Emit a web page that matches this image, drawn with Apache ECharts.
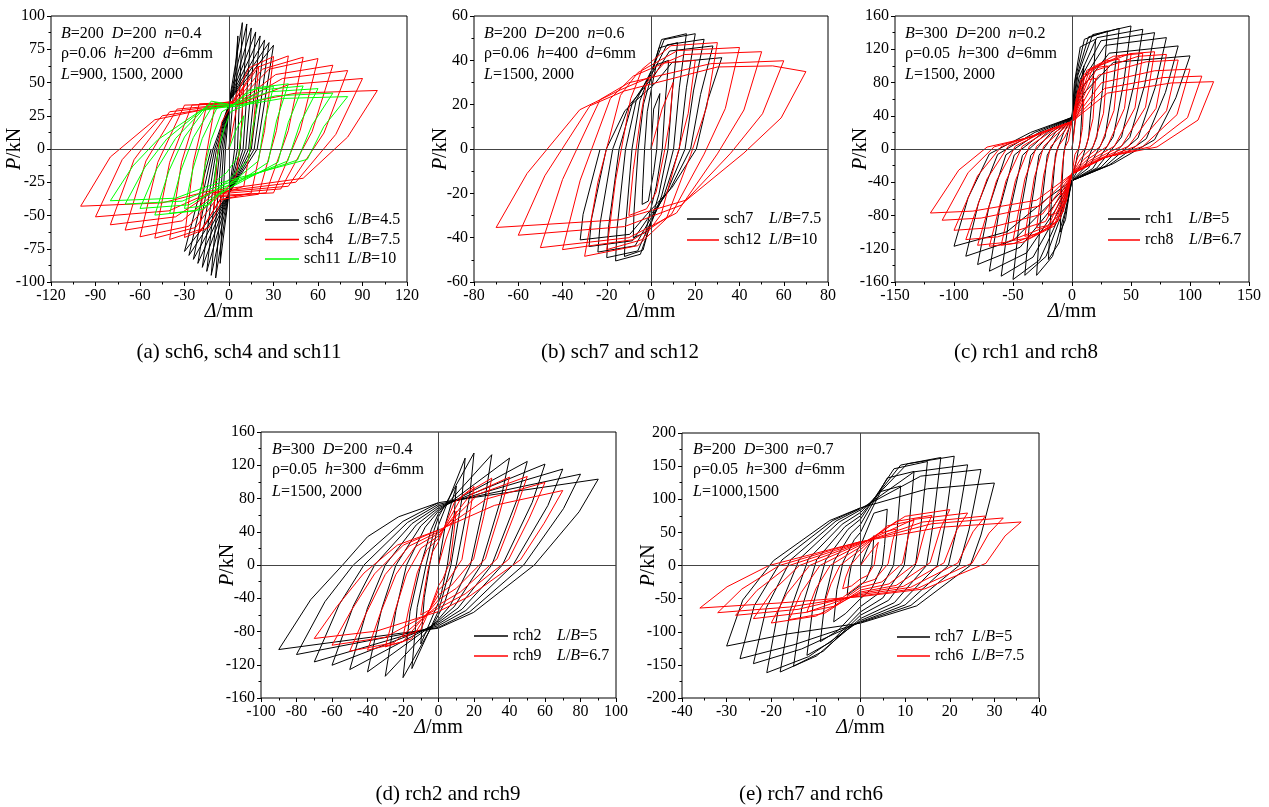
<!DOCTYPE html>
<html><head><meta charset="utf-8">
<script src="https://cdn.jsdelivr.net/npm/echarts@6/dist/echarts.min.js"></script>
<style>html,body{margin:0;padding:0;background:#fff}#c{width:1269px;height:807px}</style>
</head><body><div id="c"></div>
<script>
// ---------- data (Δ in mm, P in kN) ----------
const sch6 = [[0,0],[6,85],[3.8,0],[-0.3,-36],[-6,-86],[-2.4,0],[0.5,38],[9,95],[5.7,0],[-0.5,-36],[-9,-97],[-3.6,0],[0.6,38],[12,94],[7.6,0],[-0.6,-36],[-12,-95],[-4.8,0],[0.8,38],[15,91],[9.5,0],[-0.8,-36],[-15,-92],[-6,0],[0.9,38],[18,88],[11.3,0],[-0.9,-36],[-18,-89],[-7.2,0],[1,38],[21,85],[13.2,0],[-1,-36],[-21,-86],[-8.4,0],[1.1,38],[24,82],[15.1,0],[-1.2,-36],[-24,-83],[-9.6,0],[1.2,38],[27,80],[17,0],[-1.4,-36],[-27,-80],[-10.8,0],[1.4,38],[30,78],[19,0],[-1.5,-36],[-30,-77],[-12,0]];
const sch4 = [[0,0],[5,30],[10,48],[8,10],[5,-20],[-1.5,-30],[-10,-45],[-8,-7],[-5,20],
[1.6,33],[20,62],[16,12],[10,-28],[-3,-33],[-20,-63],[-16,-9],[-10,30],
[2.4,35],[13.5,61],[30,69.5],[24,14],[15,-33],[-4.5,-38],[-13.5,-59],[-30,-66.5],[-24,-10],[-15,33],
[3.2,36],[18,61],[40,70],[32,14],[20,-34],[-6,-38],[-18,-60],[-40,-68],[-32,-10],[-20,34],
[4,35],[22.5,60],[50,69],[40,14],[25,-33],[-7.5,-36],[-22.5,-59],[-50,-67],[-40,-10],[-25,33],
[5,35],[27,60],[60,68],[48,14],[30,-33],[-9,-35],[-27,-58],[-60,-66],[-48,-10],[-30,33],
[5.6,34],[31.5,56],[70,63],[56,13],[35,-30],[-10.5,-34],[-31.5,-54],[-70,-61],[-56,-9],[-35,30],
[6.4,34],[36,53],[80,59],[64,12],[40,-28],[-12,-33],[-36,-51],[-80,-57],[-64,-8],[-40,28],
[7.2,34],[40.5,48.5],[90,53],[72,11],[45,-25],[-13.5,-33],[-40.5,-46.5],[-90,-51],[-72,-8],[-45,25],
[8,34],[45,42],[100,44],[80,9],[50,-22],[-15,-32],[-45,-40.5],[-100,-43],[-80,-6],[-50,22],[-20,29],[0,33]];
const sch11 = [[0,0],[5,15],[10,25],[8,11],[6.6,-5],[-1.8,-18],[-10,-25],[-8.1,-8],[-6,5],[-2.4,18],
[1,28],[20,37],[16,16],[13.2,-8],[-3.6,-27],[-20,-38],[-16.2,-12.5],[-12,7],[-4.8,28],
[1.5,32],[13.5,44],[30,47],[24,20],[19.8,-9],[-5.4,-32],[-13.5,-42],[-30,-44.7],[-24.3,-15],[-18,8],[-7.2,33],
[2,33],[18,46],[40,49],[32,21],[26.4,-10],[-7.2,-35],[-18,-45.5],[-40,-48.4],[-32.4,-16],[-24,8.7],[-9.6,35],
[2.5,33],[22.5,44.5],[50,47.4],[40,20],[33,-10],[-9,-35],[-22.5,-46.5],[-50,-49.7],[-40.5,-16.4],[-30,9],[-12,36],
[3,33],[27,43],[60,45.4],[48,19.5],[39.6,-9],[-10.8,-32],[-27,-42],[-60,-44.7],[-48.6,-14.8],[-36,8],[-14.4,33],
[3.5,32],[31.5,40],[70,42],[56,18],[46.2,-8.3],[-12.6,-30],[-31.5,-39.2],[-70,-41.4],[-56.7,-13.7],[-42,7.5],[-16.8,30.6],
[4,32],[36,38],[80,39.4],[64,17],[52.8,-7.8],[-14.4,-28],[-36,-37],[-80,-38.9],[-64.8,-12.8],[-48,7],[-19.2,28.8],[0,32]];
const sch7 = [[0,0],[1.2,18],
[4,25],[3.2,13.3],[2.6,0],[1.2,-10.5],[-0.2,-18],[-1.2,-23.5],[-4,-25],[-3.8,-18],[-2.9,0],[-1.7,16.8],[0.5,28.8],[2.4,38],
[8,40],[6.4,21.2],[5.1,0],[2.4,-16.8],[-0.5,-28.8],[-2.4,-37.6],[-8,-40],[-7.7,-28.8],[-5.8,0],[-3.4,20.2],[0.7,34.6],[3.6,45.6],
[12,48],[9.6,25.4],[7.7,0],[3.6,-20.4],[-0.7,-34.9],[-3.6,-45.6],[-12,-48.5],[-11.5,-34.9],[-8.6,0],[-5,21.8],[1,37.4],[4.8,49.4],
[16,52],[12.8,27.6],[10.2,0],[4.8,-21.2],[-1,-36.4],[-4.8,-47.5],[-16,-50.5],[-15.4,-36.4],[-11.5,0],[-6.7,21.8],[1.2,37.4],[6,49.4],
[20,52],[16,27.6],[12.8,0],[6,-20.6],[-1.2,-35.3],[-6,-46],[-20,-49],[-19.2,-35.3],[-14.4,0],[-8.4,20.8],[1.4,35.6],[7.2,47],
[24,49.5],[19.2,26.2],[15.4,0],[7.2,-19.5],[-1.4,-33.5],[-7.2,-43.7],[-24,-46.5],[-23,-33.5],[-17.3,0],[-10,19.5],[1.7,33.5],[8.4,44.2],
[28,46.5],[22.4,24.6],[17.9,0],[8.4,-18.5],[-1.7,-31.7],[-8.4,-41.4],[-28,-44],[-26.9,-31.7],[-20.2,0],[-11.8,17.3],[1.9,29.7],[9.6,39.1],
[32,41.2],[25.6,21.8],[20.5,0],[9.6,-17.2],[-1.9,-29.5],[-9.6,-38.5],[-32,-41],[-30.7,-29.5],[-23,0]];
const sch12 = [[0,0],[5,18],
[10,30],[8.4,12],[6,-1.5],[2.3,-19.5],[-2,-27],[-10,-30],[-8,-9.3],[-4.6,15],[-2,30],[6,38.8],
[20,40],[16.8,16],[12,-2.3],[4.6,-29.5],[-4,-40.9],[-20,-45.4],[-16,-14.1],[-9.2,22.7],[-4,36],[9,46.6],
[30,48],[25.2,19.2],[18,-2.4],[6.9,-31.5],[-6,-43.6],[-30,-48.4],[-24,-15],[-13.8,24.2],[-6,34.4],[12,44.4],
[40,45.8],[33.6,18.3],[24,-2.3],[9.2,-29.5],[-8,-40.9],[-40,-45.4],[-32,-14.1],[-18.4,22.7],[-8,32.9],[15,42.6],
[50,43.9],[42,17.6],[30,-2.2],[11.5,-28.9],[-10,-40],[-50,-44.5],[-40,-13.8],[-23,22.3],[-10,29.9],[27,38.5],
[60,39.8],[50.4,15.9],[36,-1.9],[13.8,-25.3],[-12,-35],[-60,-38.9],[-48,-12.1],[-27.6,19.5],[-12,26.2],[30,37],[55,37.5],
[70,34.9],[58.8,14],[42,-1.8],[16.1,-23],[-14,-31.9],[-70,-35.4],[-56,-11],[-32.2,17.7],[-14,26.6],[0,32.6]];
const rch1 = [[0,0],[3,40],
[10,100],[8.8,55],[7,10],[3.5,-15],[0,-38],[-2,-50],[-5.5,-85],[-10,-100],[-8.8,-50],[-7,-5],[-3.5,20],[0,38],[2,79.2],[7,122.8],
[20,132],[17.6,72.6],[14,13.2],[7,-20],[0,-38],[-4,-66.5],[-11,-113],[-20,-133],[-17.6,-66.5],[-14,-6.7],[-7,20],[0,38],[3,85.2],[10.5,132],
[30,142],[26.4,78.1],[21,14.2],[10.5,-22.8],[0,-38],[-6,-76],[-16.5,-129.2],[-30,-152],[-26.4,-76],[-21,-7.6],[-10.5,20],[0,38],[4,87],[14,134.9],
[40,145],[35.2,79.8],[28,14.5],[14,-22.8],[0,-38],[-8,-76],[-22,-129.2],[-40,-152],[-35.2,-76],[-28,-7.6],[-14,20],[0,38],[5,88.8],[17.5,137.6],
[50,148],[44,81.4],[35,14.8],[17.5,-23.6],[0,-38],[-10,-78.5],[-27.5,-133.5],[-50,-157],[-44,-78.5],[-35,-7.9],[-17.5,20],[0,38],[6,86.4],[21,133.9],
[60,144],[52.8,79.2],[42,14.4],[21,-23],[0,-38],[-12,-76.5],[-33,-130],[-60,-153],[-52.8,-76.5],[-42,-7.7],[-21,20],[0,38],[7,84],[24.5,130.2],
[70,140],[61.6,77],[49,14],[24.5,-22],[0,-38],[-14,-73.5],[-38.5,-125],[-70,-147],[-61.6,-73.5],[-49,-7.4],[-24.5,20],[0,38],[8,80.4],[28,124.6],
[80,134],[70.4,73.7],[56,13.4],[28,-20.9],[0,-38],[-16,-69.5],[-44,-118.2],[-80,-139],[-70.4,-69.5],[-56,-7],[-28,20],[0,38],[9,74.4],[31.5,115.3],
[90,124],[79.2,68.2],[63,12.4],[31.5,-19.4],[0,-38],[-18,-64.5],[-49.5,-109.7],[-90,-129],[-79.2,-64.5],[-63,-6.5],[-31.5,20],[0,38],[10,67.2],[35,104.2],
[100,112],[88,61.6],[70,11.2],[35,-17.6],[0,-38],[-20,-58.5],[-55,-99.5],[-100,-117],[-88,-58.5],[-70,-5.9],[-35,20],[0,38]];
const rch8 = [[0,0],[3,35],
[10,60],[8.9,25.8],[6,1.8],[2.5,-6.6],[0,-30],[-2.5,-44],[-7,-53.4],[-10,-55],[-8,-18.2],[-6,1.7],[-3,9.9],[0,33],[5,70.6],[14,83.3],
[20,85],[17.8,36.6],[12,2.6],[5,-9.6],[0,-30],[-5,-64],[-14,-77.6],[-20,-80],[-16,-26.4],[-12,2.4],[-6,14.4],[0,33],[7.5,83],[21,98],
[30,100],[26.7,43],[18,3],[7.5,-11.4],[0,-30],[-7.5,-76],[-21,-92.2],[-30,-95],[-24,-31.4],[-18,2.9],[-9,17.1],[0,33],[10,89.6],[28,105.8],
[40,108],[35.6,46.4],[24,3.2],[10,-12.6],[0,-30],[-10,-84],[-28,-101.9],[-40,-105],[-32,-34.7],[-24,3.2],[-12,18.9],[0,33],[12.5,94.5],[35,111.5],
[50,113.8],[44.5,48.9],[30,3.4],[12.5,-13.2],[0,-30],[-12.5,-88],[-35,-106.7],[-50,-110],[-40,-36.3],[-30,3.3],[-15,19.8],[0,33],[15,95.5],[42,112.7],
[60,115],[53.4,49.5],[36,3.5],[15,-13.9],[0,-30],[-15,-92.6],[-42,-112.3],[-60,-115.8],[-48,-38.2],[-36,3.5],[-18,20.8],[0,33],[17.5,97.1],[49,114.7],
[70,117],[62.3,50.3],[42,3.5],[17.5,-14],[0,-30],[-17.5,-93.6],[-49,-113.5],[-70,-117],[-56,-38.6],[-42,3.5],[-21,21.1],[0,33],[20,94.5],[56,111.5],
[80,113.8],[71.2,48.9],[48,3.4],[20,-13.9],[0,-30],[-20,-92.6],[-56,-112.3],[-80,-115.8],[-64,-38.2],[-48,3.5],[-24,20.8],[0,33],[22.5,88.8],[63,104.9],
[90,107],[80.1,46],[54,3.2],[22.5,-13.1],[0,-30],[-22.5,-87.2],[-63,-105.7],[-90,-109],[-72,-36],[-54,3.3],[-27,19.6],[0,33],[25,79.7],[70,94.1],
[100,96],[89,41.3],[60,2.9],[25,-11.7],[0,-30],[-25,-78.2],[-70,-94.9],[-100,-97.8],[-80,-32.3],[-60,2.9],[-30,17.6],[0,33],[27.5,72.8],[77,85.9],
[110,87.7],[97.9,37.7],[66,2.6],[27.5,-10.3],[0,-30],[-27.5,-68.6],[-77,-83.1],[-110,-85.7],[-88,-28.3],[-66,2.6],[-33,15.4],[0,33],[30,67.2],[84,79.4],
[120,81],[106.8,34.8],[72,2.4],[30,-9.2],[0,-30],[-30,-61.6],[-84,-74.7],[-120,-77],[-96,-25.4],[-72,2.3],[-36,13.9],[0,33]];
const rch2 = [[0,0],[4,50],
[10,95],[8.8,59],[5,0],[1.5,-35],[0,-45],[-10,-95],[-8,-39],[-5,0],[-1.5,35],[0,48],
[15,128.6],[13.2,80],[7,0],[2,-40],[0,-55],[-15,-124.6],[-12,-51],[-7,0],[-2.5,42],[0,58],
[20,134.7],[17.6,83.5],[10,0],[3.5,-45],[0,-60],[-20,-135.5],[-16,-55.6],[-10,0],[-4,43],[0,62],
[30,132.7],[26.4,82.3],[18,0],[6.6,-48.8],[0,-65],[-30,-133.9],[-24,-54.9],[-18,0],[-7.5,45.5],[0,65],
[40,128.6],[35.2,79.7],[24,0],[8.8,-50.3],[0,-67],[-40,-128.6],[-32,-52.7],[-24,0],[-10,46.9],[0,67],
[50,124.6],[44,77.3],[30,0],[11,-51.8],[0,-69],[-50,-125.8],[-40,-51.6],[-30,0],[-12.5,48.3],[0,69],
[60,121.4],[52.8,75.3],[36,0],[13.2,-53.3],[0,-71],[-60,-120.6],[-48,-49.4],[-36,0],[-15,49.7],[0,71],
[70,115.4],[61.6,71.5],[42,0],[15.4,-54.8],[0,-73],[-70,-116.6],[-56,-47.8],[-42,0],[-17.5,51.1],[0,73],
[80,109.3],[70.4,67.8],[48,0],[17.6,-56.3],[0,-75],[-80,-107.7],[-64,-44.2],[-48,0],[-20,52.5],[0,75],
[90,103.3],[79.2,64],[54,0],[19.8,-57],[0,-76],[-90,-101.7],[-72,-41.7],[-54,0],[-40,34],[-22.5,58],[0,75]];
const rch9 = [[0,0],[4,30],
[10,65],[8.5,36.4],[6.6,4.6],[2.5,-16.8],[0,-25],[-5,-54],[-10,-60],[-8.2,-34.2],[-6,-6.6],[-3.3,16],[0,28],[9,75.6],
[20,94.5],[17,52.9],[13.2,6.6],[5,-20.1],[0,-30],[-10,-77.8],[-20,-86.4],[-16.4,-49.2],[-12,-9.5],[-6.6,18.2],[0,32],[13.5,83.6],
[30,104.5],[25.5,58.5],[19.8,7.3],[7.5,-24.1],[0,-36],[-15,-88.7],[-30,-98.5],[-24.6,-56.1],[-18,-10.8],[-9.9,20],[0,35],[18,84.6],
[40,105.7],[34,59.2],[26.4,7.4],[10,-28.1],[0,-42],[-20,-92.3],[-40,-102.5],[-32.8,-58.4],[-24,-11.3],[-13.2,21.7],[0,38],[22.5,85.2],
[50,106.5],[42.5,59.6],[33,7.5],[12.5,-32.2],[0,-48],[-25,-93.3],[-50,-103.7],[-41,-59.1],[-30,-11.4],[-16.5,22.8],[0,40],[27,79.4],
[60,99.3],[51,55.6],[39.6,7],[15,-34.8],[0,-52],[-30,-86.9],[-60,-96.5],[-49.2,-55],[-36,-10.6],[-19.8,24],[0,42],[31.5,71.7],
[70,89.6],[59.5,50.2],[46.2,6.3],[17.5,-37.5],[0,-56],[-35,-79.6],[-70,-88.4],[-57.4,-50.4],[-42,-9.7],[-23.1,24],[0,42]];
const rch7 = [[0,0],[1.5,25],
[3,45],[2.7,16.7],[2.5,0],[1.3,-21],[0,-30],[-1.7,-38.3],[-3,-45],[-2.6,-19.4],[-2,2.7],[-0.7,23.4],[0,30],[3,79],
[6,85],[5.4,31.5],[4.9,0],[2.5,-35],[0,-50],[-3.3,-72.3],[-6,-85],[-5.3,-36.6],[-3.9,5.1],[-1.4,39],[0,50],[4.5,111.6],
[9,120],[8.1,44.4],[7.4,0],[3.8,-43.4],[0,-62],[-5,-97.8],[-9,-115],[-7.9,-49.5],[-5.9,6.9],[-2.1,48.4],[0,62],[6,132.1],
[12,142],[10.8,52.5],[9.8,0],[5,-49],[0,-70],[-6.6,-115.3],[-12,-135.6],[-10.6,-58.3],[-7.8,8.1],[-2.8,54.6],[0,70],[7.5,146],
[15,157],[13.5,58.1],[12.3,0],[6.3,-52.5],[0,-75],[-8.3,-129.2],[-15,-152],[-13.2,-65.4],[-9.8,9.1],[-3.5,58.5],[0,75],[9,151.6],
[18,163],[16.2,60.3],[14.8,0],[7.6,-56],[0,-80],[-9.9,-136.7],[-18,-160.8],[-15.8,-69.1],[-11.7,9.6],[-4.1,62.4],[0,80],[10.5,153.5],
[21,165],[18.9,61],[17.2,0],[8.8,-58.1],[0,-83],[-11.6,-137.5],[-21,-161.8],[-18.5,-69.6],[-13.7,9.7],[-4.8,65.5],[0,84],[12,141.4],
[24,152],[21.6,56.2],[19.7,0],[10,-59.5],[0,-85],[-13.2,-126],[-24,-148.2],[-21.1,-63.7],[-15.6,8.9],[-5.5,67.1],[0,86],[13.5,134.9],
[27,145],[24.3,53.7],[22.1,0],[11.3,-60.2],[0,-86],[-14.9,-119.6],[-27,-140.7],[-23.8,-60.5],[-17.6,8.4],[-6.2,67.9],[0,87],[15,115.8],
[30,124.5],[27,46.1],[24.6,0],[12.6,-60.9],[0,-87],[-16.5,-103.4],[-30,-121.6],[-26.4,-52.3],[-19.5,7.3],[-6.9,67.9],[0,87]];
const rch6 = [[0,0],[2,18],
[4,35],[3.6,23.8],[3.1,1.8],[1.6,-15],[0,-20],[-2,-30.8],[-4,-35],[-3.3,-17.5],[-2.3,0],[-0.8,11.7],[0,18],[4,48.4],
[8,55],[7.2,37.4],[6.2,2.8],[3.2,-21],[0,-28],[-4,-48.4],[-8,-55],[-6.6,-27.5],[-4.6,0],[-1.6,15.6],[0,24],[6,59.8],
[12,68],[10.8,46.2],[9.4,3.4],[4.8,-24.8],[0,-33],[-6,-61.6],[-12,-70],[-10,-35],[-6.8,0],[-2.4,18.2],[0,28],[8,66.6],
[16,75.7],[14.4,51.5],[12.5,3.8],[6.4,-27.8],[0,-37],[-8,-72],[-16,-81.8],[-13.3,-40.9],[-9.1,0],[-3.2,20.2],[0,31],[10,74.2],
[20,84.3],[18,57.3],[15.6,4.2],[8,-30],[0,-40],[-10,-76.4],[-20,-86.8],[-16.6,-43.4],[-11.4,0],[-4,21.5],[0,33],[12,69.7],
[24,79.2],[21.6,53.9],[18.7,4],[9.6,-31.5],[0,-42],[-12,-70.6],[-24,-80.2],[-19.9,-40.1],[-13.7,0],[-4.8,22.1],[0,34],[14,65.7],
[28,74.7],[25.2,50.8],[21.8,3.7],[11.2,-33],[0,-44],[-14,-66.2],[-28,-75.2],[-23.2,-37.6],[-16,0],[-5.6,22.8],[0,35],[16,63.1],
[32,71.7],[28.8,48.8],[25,3.6],[12.8,-34.5],[0,-46],[-16,-62.7],[-32,-71.2],[-26.6,-35.6],[-18.2,0],[-6.4,23.4],[0,36],[18,57.8],
[36,65.7],[32.4,44.7],[28.1,3.3],[14.4,-35.3],[0,-47],[-18,-56.5],[-36,-64.2],[-29.9,-32.1],[-20.5,0],[-7.2,23.4],[0,36]];

// axis ranges [min, max, interval]
const xRangeA = [-120,120,30], yRangeA = [-100,100,25];
const xRangeB = [-80,80,20],   yRangeB = [-60,60,20];
const xRangeC = [-150,150,50], yRangeC = [-160,160,40];
const xRangeD = [-100,100,20], yRangeD = [-160,160,40];
const xRangeE = [-40,40,10],   yRangeE = [-200,200,50];

// legend names and L/B ratios
const namesA = ['sch6','sch4','sch11'], ratiosA = ['4.5','7.5','10'];
const namesB = ['sch7','sch12'], ratiosB = ['7.5','10'];
const namesC = ['rch1','rch8'], ratiosC = ['5','6.7'];
const namesD = ['rch2','rch9'], ratiosD = ['5','6.7'];
const namesE = ['rch7','rch6'], ratiosE = ['5','7.5'];

const notesA = ['{i|B}=200  {i|D}=200  {i|n}=0.4','ρ=0.06  {i|h}=200  {i|d}=6mm','{i|L}=900, 1500, 2000'];
const notesB = ['{i|B}=200  {i|D}=200  {i|n}=0.6','ρ=0.06  {i|h}=400  {i|d}=6mm','{i|L}=1500, 2000'];
const notesC = ['{i|B}=300  {i|D}=200  {i|n}=0.2','ρ=0.05  {i|h}=300  {i|d}=6mm','{i|L}=1500, 2000'];
const notesD = ['{i|B}=300  {i|D}=200  {i|n}=0.4','ρ=0.05  {i|h}=300  {i|d}=6mm','{i|L}=1500, 2000'];
const notesE = ['{i|B}=200  {i|D}=300  {i|n}=0.7','ρ=0.05  {i|h}=300  {i|d}=6mm','{i|L}=1000,1500'];

const captions = ['(a) sch6, sch4 and sch11','(b) sch7 and sch12','(c) rch1 and rch8','(d) rch2 and rch9','(e) rch7 and rch6'];

// ---------- layout ----------
const FONT = '"Liberation Serif","Times New Roman",serif';
const BLACK = '#000000', RED = '#ff0000', GREEN = '#00ff00';
const panels = [
 {grid:{left:51,top:16,width:356,height:266}, x:xRangeA, y:yRangeA, names:namesA, ratios:ratiosA, data:[sch6,sch4,sch11], colors:[BLACK,RED,GREEN],
  leg:{left:265,top:212,itemWidth:34,itemGap:3.5,nameW:44}, note:{left:61,tops:[26,46,67]}, notes:notesA, cap:{x:239,y:352}, yGap:26},
 {grid:{left:474,top:16,width:354,height:266}, x:xRangeB, y:yRangeB, names:namesB, ratios:ratiosB, data:[sch7,sch12], colors:[BLACK,RED],
  leg:{left:687,top:211,itemWidth:32,itemGap:5,nameW:45}, note:{left:484,tops:[26,46,67]}, notes:notesB, cap:{x:620,y:352}, yGap:23},
 {grid:{left:895,top:16,width:354,height:266}, x:xRangeC, y:yRangeC, names:namesC, ratios:ratiosC, data:[rch1,rch8], colors:[BLACK,RED],
  leg:{left:1108,top:211,itemWidth:32,itemGap:5,nameW:44}, note:{left:905,tops:[26,46,67]}, notes:notesC, cap:{x:1026,y:352}, yGap:24},
 {grid:{left:261,top:432,width:355,height:266}, x:xRangeD, y:yRangeD, names:namesD, ratios:ratiosD, data:[rch2,rch9], colors:[BLACK,RED],
  leg:{left:474,top:628,itemWidth:34,itemGap:4,nameW:44}, note:{left:272,tops:[442,462,484]}, notes:notesD, cap:{x:448,y:794}, yGap:23},
 {grid:{left:682,top:433,width:357,height:265}, x:xRangeE, y:yRangeE, names:namesE, ratios:ratiosE, data:[rch7,rch6], colors:[BLACK,RED],
  leg:{left:897,top:629,itemWidth:33,itemGap:3,nameW:37}, note:{left:693,tops:[442,462,484]}, notes:notesE, cap:{x:811,y:794}, yGap:23}
];

const grids=[], xAxes=[], yAxes=[], series=[], legends=[], graphics=[];
const tickStyle = {color:'#000', width:1};
panels.forEach((p, i) => {
  grids.push(Object.assign({show:true, borderColor:'#000', borderWidth:1, backgroundColor:'rgba(0,0,0,0)', containLabel:false}, p.grid));
  const common = {gridIndex:i, type:'value', axisLine:{show:false, onZero:false},
    axisTick:{show:true, inside:false, length:4, lineStyle:tickStyle},
    minorTick:{show:true, splitNumber:2, length:2.5, lineStyle:tickStyle},
    splitLine:{show:false}, minorSplitLine:{show:false},
    axisLabel:{fontFamily:FONT, fontSize:16, color:'#000', margin:6},
    nameLocation:'middle', nameMoveOverlap:false};
  xAxes.push(Object.assign({}, common, {min:p.x[0], max:p.x[1], interval:p.x[2],
    name:'{i|Δ}/mm', nameGap:20,
    nameTextStyle:{fontFamily:FONT, fontSize:20, color:'#000', rich:{i:{fontStyle:'italic', fontFamily:FONT, fontSize:20, color:'#000'}}}}));
  yAxes.push(Object.assign({}, common, {min:p.y[0], max:p.y[1], interval:p.y[2],
    name:'{i|P}/kN', nameGap:p.yGap,
    nameTextStyle:{fontFamily:FONT, fontSize:20, color:'#000', rich:{i:{fontStyle:'italic', fontFamily:FONT, fontSize:20, color:'#000'}}}}));
  // zero reference lines
  series.push({type:'line', xAxisIndex:i, yAxisIndex:i, data:[[0,0]], symbol:'none', lineStyle:{opacity:0}, silent:true, z:1,
    markLine:{silent:true, symbol:['none','none'], label:{show:false}, animation:false,
      lineStyle:{color:'#444', width:1, type:'solid'}, data:[{xAxis:0},{yAxis:0}]}});
  p.names.forEach((nm, k) => {
    series.push({name:nm, type:'line', xAxisIndex:i, yAxisIndex:i, data:p.data[k], symbol:'none', showSymbol:false,
      lineStyle:{color:p.colors[k], width:1}, itemStyle:{color:p.colors[k]}, z:2+k, silent:true});
  });
  const ratioMap = {}; p.names.forEach((nm,k)=>{ratioMap[nm]=p.ratios[k];});
  legends.push({left:p.leg.left, top:p.leg.top, orient:'vertical', itemWidth:p.leg.itemWidth, itemHeight:1.5, itemGap:p.leg.itemGap,
    selectedMode:false, padding:0, icon:'rect',
    data:p.names.map(nm => ({name:nm, icon:'rect'})),
    formatter: nm => '{n|' + nm + '}{i|L}/{i|B}=' + ratioMap[nm],
    textStyle:{fontFamily:FONT, fontSize:16, color:'#000', lineHeight:16,
      rich:{n:{width:p.leg.nameW, fontFamily:FONT, fontSize:16, color:'#000', lineHeight:16}, i:{fontStyle:'italic', fontFamily:FONT, fontSize:16, color:'#000', lineHeight:16}}}});
  p.notes.forEach((t, k) => {
    graphics.push({type:'text', left:p.note.left, top:p.note.tops[k], silent:true,
      style:{text:t, fontFamily:FONT, fontSize:16, fill:'#000',
        rich:{i:{fontStyle:'italic', fontFamily:FONT, fontSize:16, fill:'#000'}}}});
  });
  graphics.push({type:'text', x:p.cap.x, y:p.cap.y, silent:true,
    style:{text:captions[i], fontFamily:FONT, fontSize:21, fill:'#000', align:'center', verticalAlign:'middle'}});
});

const chart = echarts.init(document.getElementById('c'), null, {renderer:'canvas'});
chart.setOption({animation:false, backgroundColor:'#fff', grid:grids, xAxis:xAxes, yAxis:yAxes, series:series, legend:legends, graphic:graphics});
</script></body></html>
